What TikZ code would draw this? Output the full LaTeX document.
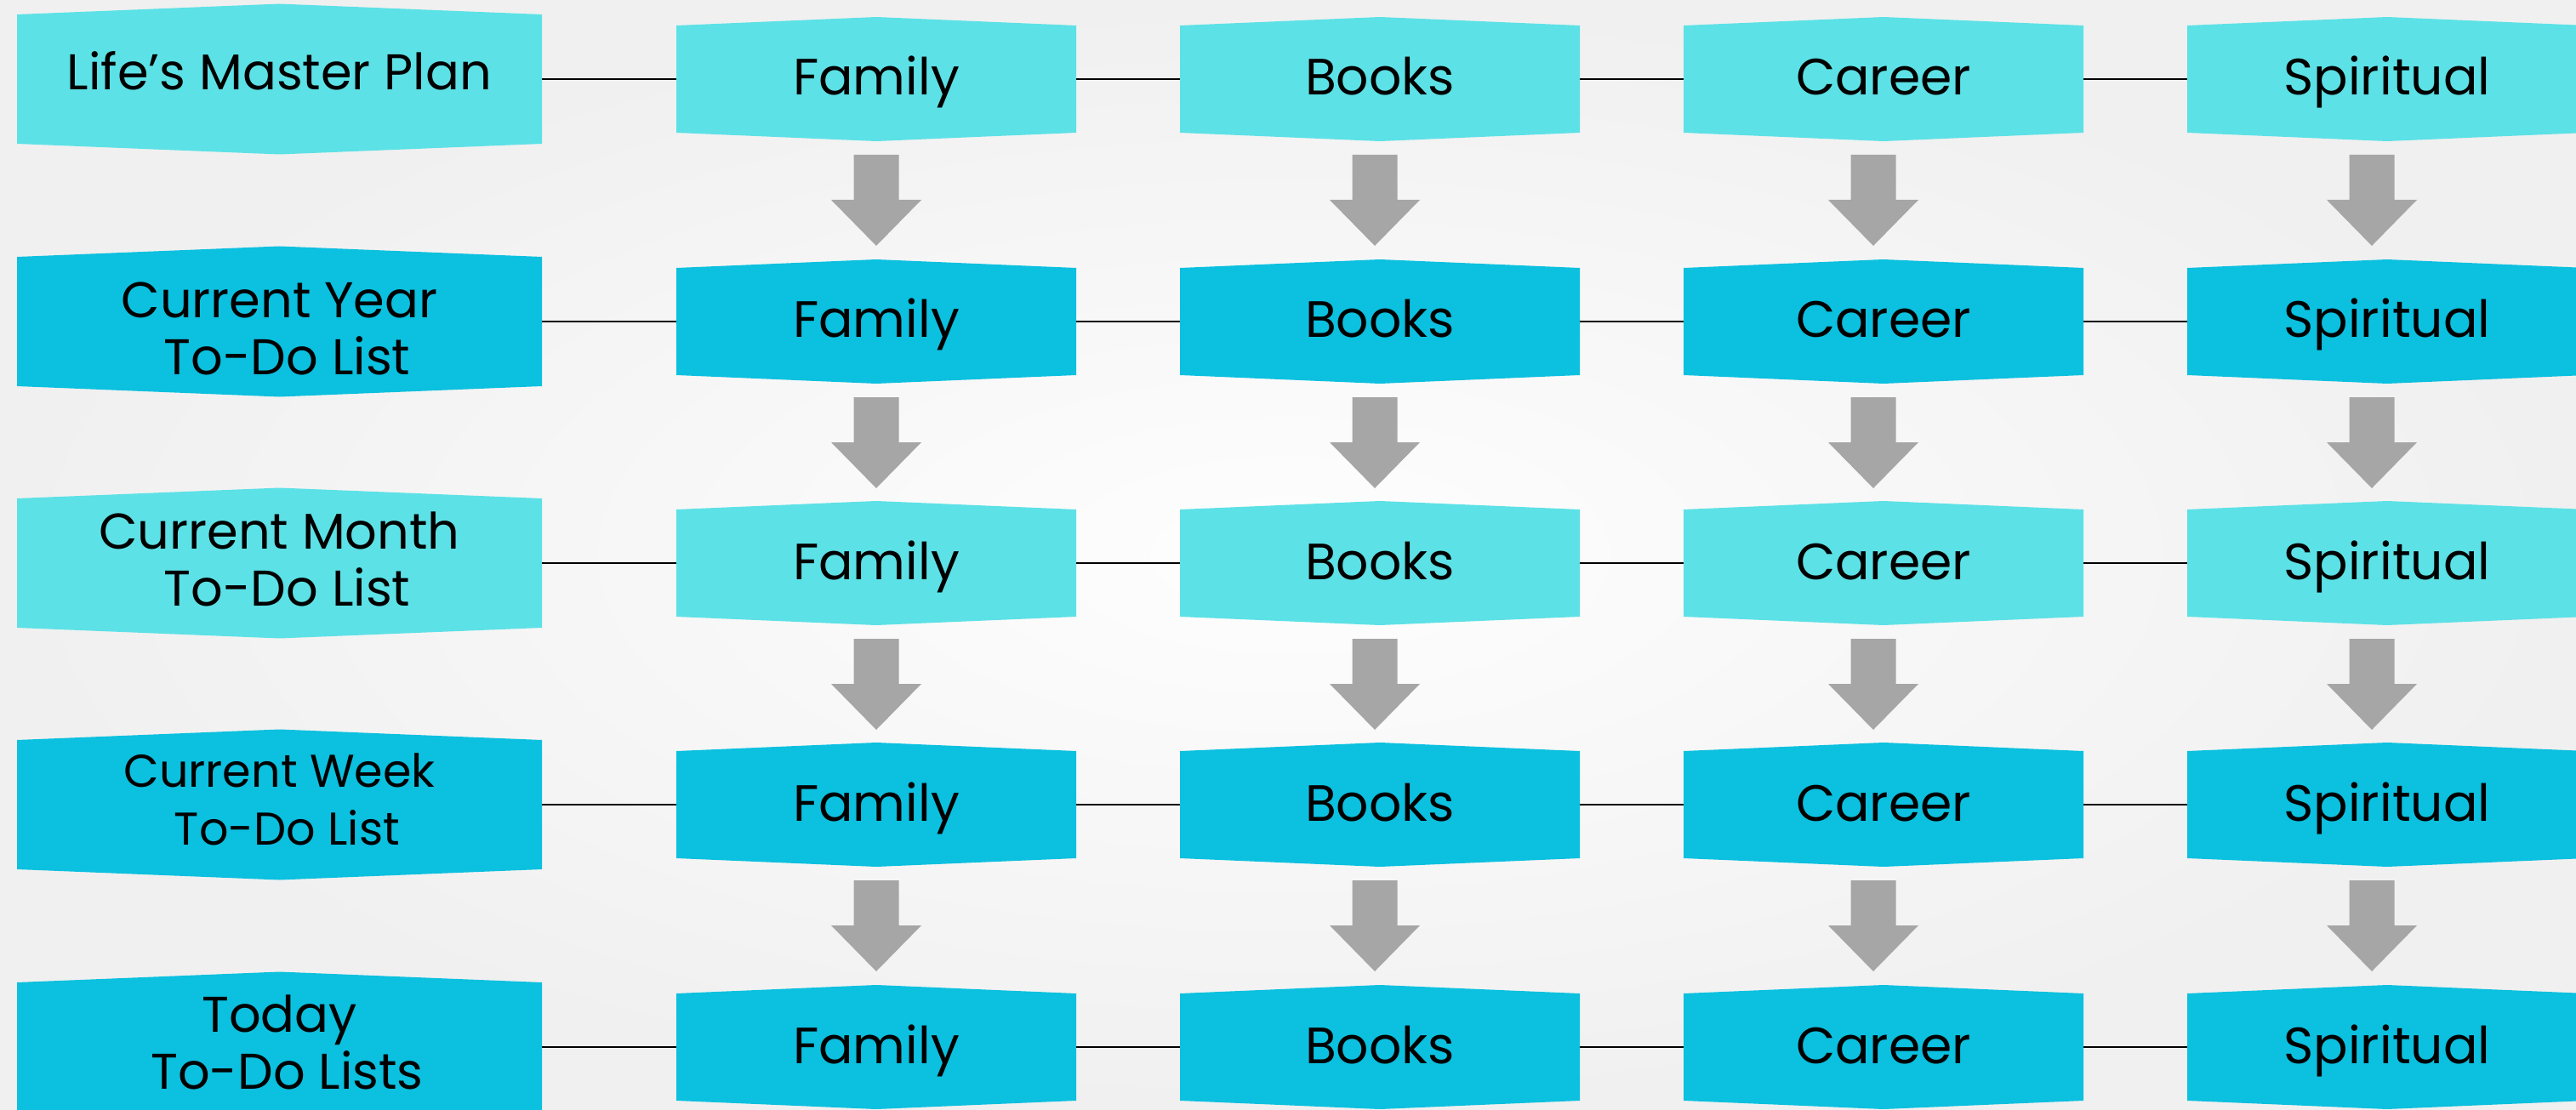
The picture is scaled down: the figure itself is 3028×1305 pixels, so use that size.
\documentclass[tikz,border=0pt]{standalone}
\usepackage{fontspec}
\setmainfont{Poppins}
\definecolor{tealLight}{HTML}{5CE1E6}
\definecolor{tealDark}{HTML}{0CC0DF}
\definecolor{arrowGray}{HTML}{A6A6A6}
\definecolor{bgEdge}{HTML}{F0F0F0}
\definecolor{bgCentre}{HTML}{FEFEFE}

% filled tile: colour, centre x, centre y, half width, half height, peak
\newcommand\hexfill[6]{%
  \fill[#1] ({#2-#4},{#3-#5}) -- (#2,{#3-#5-#6}) -- ({#2+#4},{#3-#5})
    -- ({#2+#4},{#3+#5}) -- (#2,{#3+#5+#6}) -- ({#2-#4},{#3+#5}) -- cycle;}
% second line of a heading, set slightly to the right
\newcommand\nextline{\\\hspace*{18pt}}

\begin{document}
\begin{tikzpicture}[x=1pt,y=-1pt,
  tiletext/.style={inner sep=0pt, align=center, text=black},
  headbox/.style={tiletext, minimum width=617pt, minimum height=152pt,
    font=\fontsize{59}{67}\selectfont},
  areabox/.style={tiletext, minimum width=470pt, minimum height=126pt,
    text height=42pt, text depth=4pt, font=\fontsize{60}{72}\selectfont},
  link/.style={black, line width=2.5pt}]

\useasboundingbox (0,0) rectangle (3028,1305);
\clip (0,0) rectangle (3028,1305);

% background
\fill[bgEdge] (0,0) rectangle (3028,1305);
\shade[inner color=bgCentre, outer color=bgEdge] (0,0) rectangle (3028,1305);

% tiles
\foreach \y/\col in {93/tealLight, 378/tealDark, 662/tealLight, 946/tealDark, 1231/tealDark} {
  \hexfill{\col}{328.5}{\y}{308.5}{76}{12.5}
  \foreach \cx in {1030,1622,2214,2806} {
    \hexfill{\col}{\cx}{\y}{235}{63}{10}
  }
}

% row headings
\node[headbox, text height=44pt, text depth=18pt] (L1) at (328.5,93) {Life’s Master Plan};
\node[headbox, yshift=-8pt] (L2) at (328.5,378) {Current Year\nextline To-Do List};
\node[headbox, yshift=5pt] (L3) at (328.5,662) {Current Month\nextline To-Do List};
\node[headbox, yshift=6pt, font=\fontsize{54}{68}\selectfont] (L4) at (328.5,946) {Current Week\nextline To-Do List};
\node[headbox, yshift=6pt] (L5) at (328.5,1231) {Today\nextline To-Do Lists};

% area labels
\foreach \r/\y in {1/93, 2/378, 3/662, 4/946, 5/1231} {
  \foreach \n/\cx/\t in {F/1030/Family, B/1622/Books, C/2214/Career, S/2806/Spiritual} {
    \node[areabox] (\n\r) at (\cx,\y) {\t};
  }
}

% horizontal links
\foreach \r in {1,...,5} {
  \draw[link] (L\r.east |- F\r.west) -- (F\r.west) (F\r.east) -- (B\r.west)
              (B\r.east) -- (C\r.west) (C\r.east) -- (S\r.west);
}

% block arrows between rows
\foreach \y in {93,378,662,946} {
  \foreach \ax in {1030,1616,2202,2788} {
    \fill[arrowGray] ({\ax-26.5},{\y+89}) -- ({\ax+26.5},{\y+89}) -- ({\ax+26.5},{\y+142})
      -- ({\ax+53},{\y+142}) -- (\ax,{\y+196}) -- ({\ax-53},{\y+142})
      -- ({\ax-26.5},{\y+142}) -- cycle;
  }
}
\end{tikzpicture}
\end{document}
